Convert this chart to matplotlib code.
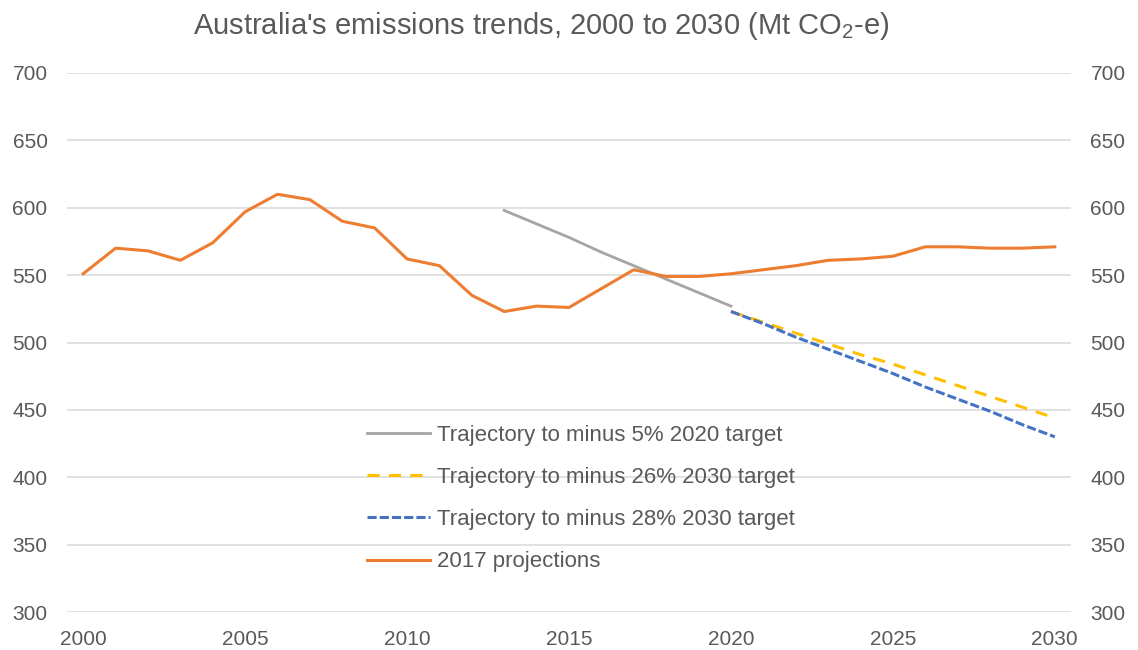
import numpy as np
from matplotlib import pyplot as plt

plt.rcParams['font.family'] = ['Liberation Sans', 'DejaVu Sans']
plt.rcParams['mathtext.default'] = 'regular'

years = list(range(2000, 2031))
projections_2017 = [551, 570, 568, 561, 574, 597, 610, 606, 590, 585,
                    562, 557, 535, 523, 527, 526, 540, 554, 549, 549,
                    551, 554, 557, 561, 562, 564, 571, 571, 570, 570, 571]

years_5pct = list(range(2013, 2021))
traj_5pct = [598, 588, 578, 567, 557, 547, 537, 527]

years_2030 = list(range(2020, 2031))
traj_26pct = [523, 515, 507, 499, 491, 484, 476, 468, 460, 452, 444]
traj_28pct = [523, 514, 504, 495, 486, 477, 467, 458, 449, 439, 430]

labels = ["Trajectory to minus 5% 2020 target",
          "Trajectory to minus 26% 2030 target",
          "Trajectory to minus 28% 2030 target",
          "2017 projections"]

text_col = "#595959"
grid_col = "#D9D9D9"

fig = plt.figure(figsize=(11.38, 6.5), dpi=100)
ax = fig.add_axes([67/1138, 1 - 612/650, (1071 - 67)/1138, (612 - 73)/650])

ax.plot(years_5pct, traj_5pct, color="#A5A5A5", lw=2.0, label=labels[0], zorder=3)
ax.plot(years_2030, traj_26pct, color="#FFC000", lw=2.2, dashes=(4, 3), label=labels[1], zorder=3)
ax.plot(years_2030, traj_28pct, color="#4472C4", lw=2.2, dashes=(3, 1), label=labels[2], zorder=4)
ax.plot(years, projections_2017, color="#ED7D31", lw=2.2, label=labels[3], zorder=5)

ax.set_xlim(1999.5, 2030.5)
ax.set_ylim(300, 700)
ax.set_yticks(range(300, 701, 50))
ax.set_xticks(range(2000, 2031, 5))
ax.grid(axis='y', color=grid_col, lw=1.1, zorder=0)
ax.set_axisbelow(True)
for s in ax.spines.values():
    s.set_visible(False)
ax.tick_params(axis='both', length=0, labelsize=15, labelcolor=text_col)
ax.tick_params(axis='y', pad=14)
ax.tick_params(axis='x', pad=13)

ax2 = ax.twinx()
ax2.set_ylim(300, 700)
ax2.set_yticks(range(300, 701, 50))
for s in ax2.spines.values():
    s.set_visible(False)
ax2.tick_params(axis='y', length=0, labelsize=15, labelcolor=text_col, pad=14)

leg = ax.legend(loc='upper left', bbox_to_anchor=(367/1138, 1 - 425/650),
                bbox_transform=fig.transFigure, frameon=False, fontsize=16,
                handlelength=2.85, handletextpad=0.3, labelspacing=0.95,
                borderpad=0, borderaxespad=0)
for t in leg.get_texts():
    t.set_color(text_col)

fig.text(541/1138, 1 - 26/650, "Australia's emissions trends, 2000 to 2030 (Mt CO$_2$-e)",
         ha='center', va='center', fontsize=21, color=text_col)

fig.savefig("out.png", dpi=100)
